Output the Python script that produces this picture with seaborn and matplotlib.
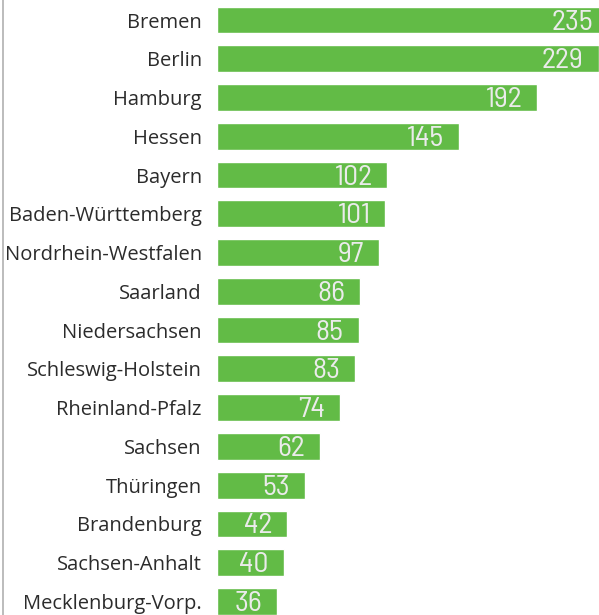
import pandas as pd
import matplotlib.pyplot as plt
from matplotlib.lines import Line2D
import seaborn as sns

# Data
states = ['Bremen', 'Berlin', 'Hamburg', 'Hessen', 'Bayern', 'Baden-Württemberg',
          'Nordrhein-Westfalen', 'Saarland', 'Niedersachsen', 'Schleswig-Holstein',
          'Rheinland-Pfalz', 'Sachsen', 'Thüringen', 'Brandenburg', 'Sachsen-Anhalt',
          'Mecklenburg-Vorp.']
values = [235, 229, 192, 145, 102, 101, 97, 86, 85, 83, 74, 62, 53, 42, 40, 36]

df = pd.DataFrame({'state': states, 'value': values})

sns.set_style('white')
plt.rcParams['font.family'] = ['Open Sans', 'DejaVu Sans']

fig = plt.figure(figsize=(5.99, 6.15), dpi=100)
ax = fig.add_axes([217 / 599, 0, 1 - 217 / 599, 1])

sns.barplot(data=df, x='value', y='state', orient='h', color='#62bb46',
            saturation=1, width=0.69, ax=ax)

ax.set_xlim(0, 229.3)
ax.set_ylim(15.35, -0.516)
ax.set_xlabel('')
ax.set_ylabel('')
ax.set_xticks([])
sns.despine(ax=ax, left=True, bottom=True)
ax.tick_params(axis='y', length=0, pad=11, labelsize=14.5, labelcolor='#2b2b2b')

# Value labels inside bar ends
for bar, v in zip(ax.patches, values):
    ax.annotate(str(v), (bar.get_width(), bar.get_y() + bar.get_height() / 2),
                xytext=(-15, -2.5), textcoords='offset pixels', ha='right', va='center',
                fontsize=21.5, fontweight=400, color='#ebebeb',
                family=['Barlow Semi Condensed', 'DejaVu Sans'],
                annotation_clip=False)

# thin frame line on the left
fig.add_artist(Line2D([3 / 599, 3 / 599], [0, 1], color='#b0b0b0', lw=1.2))

fig.savefig('out.png', dpi=100)
